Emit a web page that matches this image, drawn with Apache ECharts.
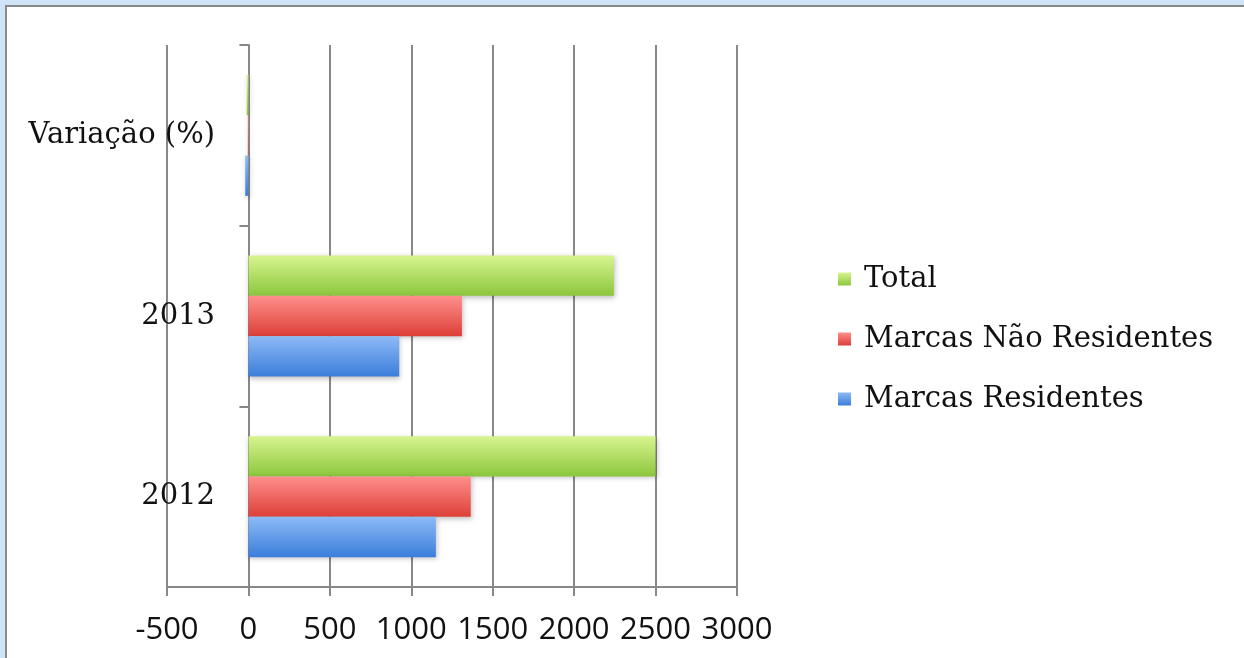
<!DOCTYPE html>
<html>
<head>
<meta charset="utf-8">
<script src="https://cdn.jsdelivr.net/npm/echarts@6/dist/echarts.min.js"></script>
<style>
html,body{margin:0;padding:0;width:1244px;height:658px;overflow:hidden;background:#cfe5f7;}
#frame{position:absolute;left:5px;top:5px;width:1239px;height:653px;background:#fff;border-left:2px solid #8a8a8a;border-top:2px solid #8a8a8a;box-sizing:border-box;}
#chart{position:absolute;left:0;top:0;width:1244px;height:658px;}
</style>
</head>
<body>
<div id="frame"></div>
<div id="chart"></div>
<script>
var categories = ['2012', '2013', 'Variação (%)'];
var seriesNames = ['Total', 'Marcas Não Residentes', 'Marcas Residentes'];
var total = [2500, 2244, -10.2];
var naoResidentes = [1365, 1311, -4.0];
var residentes = [1151, 926, -19.5];
var xTicks = { min: -500, max: 3000, interval: 500 };

function grad(top, bottom) {
  return new echarts.graphic.LinearGradient(0, 0, 0, 1, [
    { offset: 0, color: top }, { offset: 1, color: bottom }
  ]);
}
var chart = echarts.init(document.getElementById('chart'));
var barStyle = function (c1, c2) {
  return {
    color: grad(c1, c2),
    shadowBlur: 5, shadowColor: 'rgba(0,0,0,0.25)', shadowOffsetX: 1, shadowOffsetY: 2
  };
};
var option = {
  animation: false,
  grid: { left: 167, right: 507, top: 45, bottom: 71, containLabel: false, outerBoundsMode: 'none' },
  legend: {
    orient: 'vertical', left: 833, top: 258,
    data: seriesNames,
    itemWidth: 13, itemHeight: 13, itemGap: 28,
    textStyle: { fontFamily: 'DejaVu Serif', fontSize: 29, color: '#111', lineHeight: 32, padding: [0, 0, 0, 8] },
    icon: 'rect'
  },
  xAxis: {
    type: 'value', min: xTicks.min, max: xTicks.max, interval: xTicks.interval,
    axisLine: { show: true, lineStyle: { color: '#888', width: 2 } },
    axisTick: { show: true, length: 9, lineStyle: { color: '#888', width: 2 } },
    splitLine: { show: true, lineStyle: { color: '#888', width: 2 } },
    axisLabel: { fontFamily: 'Open Sans', fontSize: 31, color: '#111', margin: 28,
      showMinLabel: true, showMaxLabel: true, hideOverlap: false,
      formatter: function (v) { return String(v); } }
  },
  yAxis: {
    type: 'category', data: categories,
    axisLine: { show: true, onZero: true, lineStyle: { color: '#888', width: 2 } },
    axisTick: { show: true, length: 9, lineStyle: { color: '#888', width: 2 } },
    axisLabel: { fontFamily: 'DejaVu Serif', fontSize: 29, color: '#111', margin: -48,
      verticalAlign: 'middle', padding: [6, 0, 0, 0] }
  },
  series: [
    { name: seriesNames[0], type: 'bar', data: total, barGap: '0%', barCategoryGap: '33%',
      itemStyle: barStyle('#d8f590', '#8cc63c') },
    { name: seriesNames[1], type: 'bar', data: naoResidentes, barGap: '0%', barCategoryGap: '33%',
      itemStyle: barStyle('#ff8f8c', '#dd3f38') },
    { name: seriesNames[2], type: 'bar', data: residentes, barGap: '0%', barCategoryGap: '33%',
      itemStyle: barStyle('#8dbaf6', '#3b7edb') }
  ]
};
chart.setOption(option);
</script>
</body>
</html>
